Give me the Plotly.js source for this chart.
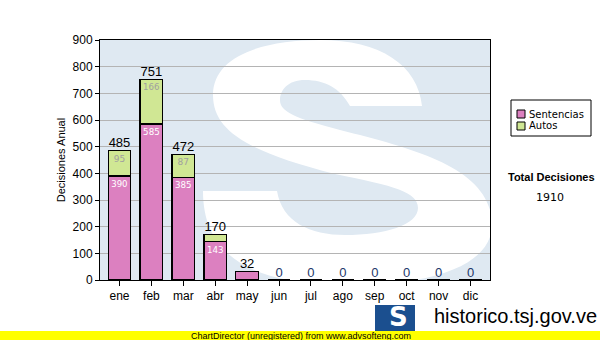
<!DOCTYPE html>
<html>
<head>
<meta charset="utf-8">
<script src="https://cdn.plot.ly/plotly-3.0.1.min.js"></script>
<style>html,body{margin:0;padding:0;background:#fff}#chart{width:600px;height:340px}</style>
</head>
<body>
<div id="chart"></div>
<script>
const months = ['ene','feb','mar','abr','may','jun','jul','ago','sep','oct','nov','dic'];
const sentencias = [390, 585, 385, 143, 32, 0, 0, 0, 0, 0, 0, 0];
const autos = [95, 166, 87, 27, 0, 0, 0, 0, 0, 0, 0, 0];
const yTicks = [0, 100, 200, 300, 400, 500, 600, 700, 800, 900];
const legendNames = ['Sentencias', 'Autos'];
const legendColors = ['#dc80c0', '#d0e794'];
const totalLabel = 'Total Decisiones';

const totals = sentencias.map((v, i) => v + autos[i]);
const grandTotal = totals.reduce((a, b) => a + b, 0);
// segment labels are only shown when the segment is tall enough to hold them
const segLabel = v => (v >= 50 ? String(v) : '');

// pixel -> paper helpers (plot area is x 100..490, y 40..280)
const PL = 100, PW = 390, PB = 280, PH = 240;
const px = x => (x - PL) / PW;
const py = y => (PB - y) / PH;

// decorative watermark "S" drawn in page pixel space (viewBox = plot area)
const sPath = 'M422,106 L350,106 C340,88 325,80 305,80 C288,80 280,90 280,100 ' +
  'C280,112 295,118 340,130 C420,150 492,170 492,225 C492,262 440,285 350,285 ' +
  'C250,285 203,255 203,191 L277,191 C282,222 310,235 345,235 C385,235 418,225 418,208 ' +
  'C418,192 395,186 335,174 C250,152 213,132 213,95 C213,55 265,40 320,40 ' +
  'C380,40 418,65 422,106 Z';
const svgS = '<svg xmlns="http://www.w3.org/2000/svg" width="390" height="240" viewBox="100 40 390 240">' +
  '<path d="' + sPath + '" fill="#ffffff"/></svg>';
const svgUri = 'data:image/svg+xml;base64,' + btoa(svgS);

const traces = [
  {
    type: 'bar', name: legendNames[0], x: months, y: sentencias, showlegend: false,
    text: sentencias.map(segLabel), textposition: 'inside', insidetextanchor: 'end', textangle: 0,
    textfont: {family: 'DejaVu Sans', size: 9, color: '#ffffff'},
    marker: {color: legendColors[0], line: {color: '#000000', width: 1.2}},
    hoverinfo: 'none'
  },
  {
    type: 'bar', name: legendNames[1], x: months, y: autos, showlegend: false,
    text: autos.map(segLabel), textposition: 'inside', insidetextanchor: 'end', textangle: 0,
    textfont: {family: 'DejaVu Sans', size: 9, color: '#a0a0a0'},
    marker: {color: legendColors[1], line: {color: '#000000', width: 1.2}},
    hoverinfo: 'none'
  },
  {
    type: 'scatter', mode: 'text', x: months, y: totals, showlegend: false,
    text: totals.map(String), textposition: 'top center', cliponaxis: false,
    textfont: {family: 'Liberation Sans', size: 13, color: totals.map(t => t === 0 ? '#23386a' : '#000000')},
    hoverinfo: 'none'
  }
];

const shapes = [
  // legend box
  {type: 'rect', xref: 'paper', yref: 'paper', x0: px(511), x1: px(591), y0: py(100), y1: py(136),
   fillcolor: '#ffffff', line: {color: '#000000', width: 1}},
  // bottom strip
  {type: 'rect', xref: 'paper', yref: 'paper', x0: px(0), x1: px(600), y0: py(331), y1: py(341),
   fillcolor: '#ffff00', line: {width: 0}, layer: 'above'},
  // logo box
  {type: 'rect', xref: 'paper', yref: 'paper', x0: px(375), x1: px(415), y0: py(305), y1: py(331),
   fillcolor: '#1b4f8f', line: {width: 0}, layer: 'above'}
];
legendNames.forEach((n, i) => {
  const top = 110 + i * 12;
  shapes.push({type: 'rect', xref: 'paper', yref: 'paper', x0: px(517), x1: px(525), y0: py(top), y1: py(top + 8),
    fillcolor: legendColors[i], line: {color: '#000000', width: 1}});
});

const annotations = [
  {text: '<b>' + totalLabel + '</b>', xref: 'paper', yref: 'paper', x: px(551), y: py(177),
   xanchor: 'center', yanchor: 'middle', showarrow: false,
   font: {family: 'Liberation Sans', size: 11, color: '#000000'}},
  {text: String(grandTotal), xref: 'paper', yref: 'paper', x: px(550), y: py(197),
   xanchor: 'center', yanchor: 'middle', showarrow: false,
   font: {family: 'DejaVu Sans', size: 11, color: '#000000'}},
  {text: '<b>S</b>', xref: 'paper', yref: 'paper', x: px(398), y: py(317),
   xanchor: 'center', yanchor: 'middle', showarrow: false,
   font: {family: 'DejaVu Sans', size: 26, color: '#ffffff'}},
  {text: 'historico.tsj.gov.ve', xref: 'paper', yref: 'paper', x: px(432), y: py(316),
   xanchor: 'left', yanchor: 'middle', showarrow: false,
   font: {family: 'Liberation Sans', size: 20, color: '#000000'}},
  {text: 'ChartDirector (unregistered) from www.advsofteng.com', xref: 'paper', yref: 'paper',
   x: px(189), y: py(335.5), xanchor: 'left', yanchor: 'middle', showarrow: false,
   font: {family: 'Liberation Sans', size: 9, color: '#000000'}}
];
legendNames.forEach((n, i) => {
  annotations.push({text: n, xref: 'paper', yref: 'paper', x: px(527), y: py(114 + i * 12),
    xanchor: 'left', yanchor: 'middle', showarrow: false,
    font: {family: 'DejaVu Sans', size: 10, color: '#000000'}});
});

const layout = {
  width: 600, height: 340,
  margin: {l: 100, r: 110, t: 40, b: 60, autoexpand: false},
  paper_bgcolor: '#ffffff',
  plot_bgcolor: '#dfe9f2',
  barmode: 'stack',
  bargap: 0.29,
  showlegend: false,
  font: {family: 'Liberation Sans', size: 11, color: '#000000'},
  xaxis: {
    type: 'category', showline: true, linecolor: '#000000', linewidth: 1, mirror: true,
    ticks: 'outside', ticklen: 5, tickcolor: '#000000', showgrid: false,
    tickfont: {family: 'Liberation Sans', size: 12, color: '#000000'}
  },
  yaxis: {
    range: [0, 900], tickvals: yTicks, ticktext: yTicks.map(String),
    showline: true, linecolor: '#000000', linewidth: 1, mirror: true,
    ticks: 'outside', ticklen: 4, tickcolor: '#000000',
    gridcolor: '#b4b4b4', gridwidth: 1, zeroline: false,
    tickfont: {family: 'Liberation Sans', size: 12, color: '#000000'},
    title: {text: 'Decisiones Anual', font: {family: 'Liberation Sans', size: 11, color: '#000000'}, standoff: 4}
  },
  images: [{
    source: svgUri, xref: 'paper', yref: 'paper', x: 0, y: 1, sizex: 1, sizey: 1,
    xanchor: 'left', yanchor: 'top', sizing: 'stretch', layer: 'below'
  }],
  shapes: shapes,
  annotations: annotations
};

Plotly.newPlot('chart', traces, layout, {displayModeBar: false, staticPlot: true});
</script>
</body>
</html>
